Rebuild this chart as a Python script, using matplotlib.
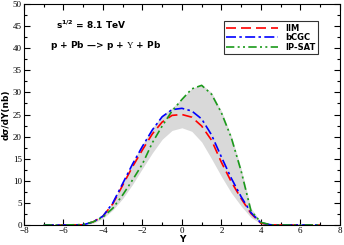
import matplotlib
matplotlib.use("Agg")
import matplotlib.pyplot as plt
from matplotlib.ticker import MultipleLocator

# rapidity grid and curves
Y = [-7, -6, -5, -4.5, -4, -3.5, -3, -2.5, -2, -1.5, -1, -0.5, 0,
     0.5, 1, 1.5, 2, 2.5, 3, 3.5, 4, 4.5, 5, 6, 7]
iim = [0, 0, 0.05, 0.7, 2.0, 4.8, 9.0, 13.2, 17.0, 20.6, 23.3, 24.8, 25.0,
       24.4, 22.4, 19.2, 14.2, 9.8, 6.0, 2.6, 0.4, 0.05, 0, 0, 0]
bcgc = [0, 0, 0.05, 0.7, 2.0, 5.0, 9.4, 13.8, 17.8, 21.5, 24.5, 26.1, 26.4,
        25.8, 24.0, 20.4, 15.4, 10.6, 6.4, 2.8, 0.5, 0.05, 0, 0, 0]
ipsat = [0, 0, 0.1, 0.7, 1.8, 3.8, 6.8, 10.2, 13.8, 18.6, 22.4, 25.8, 28.4,
         30.8, 31.6, 29.6, 25.4, 19.8, 12.2, 3.2, 0.6, 0.05, 0, 0, 0]
band_lo = [0, 0, 0, 0.4, 1.5, 3.4, 6.0, 9.2, 12.8, 16.3, 19.4, 21.4, 22.0,
           21.2, 18.8, 15.0, 11.0, 7.3, 4.3, 1.7, 0.3, 0.03, 0, 0, 0]
band_hi = [0, 0, 0.1, 0.8, 2.1, 5.2, 9.7, 14.2, 18.2, 21.9, 24.9, 26.5, 28.6,
           30.9, 31.8, 30.0, 25.8, 20.2, 12.8, 3.8, 0.8, 0.1, 0, 0, 0]

plt.rcParams["mathtext.fontset"] = "custom"
plt.rcParams["mathtext.rm"] = "Liberation Serif"

fig = plt.figure(figsize=(3.44, 2.45), dpi=100)
ax = fig.add_axes([0.0698, 0.0816, 0.918, 0.902])

ax.fill_between(Y, band_lo, band_hi, color="#d9d9d9", lw=0)
ax.plot(Y, iim, color="red", ls=(0, (6, 3)), lw=1.2, label="IIM")
ax.plot(Y, bcgc, color="blue", ls=(0, (6, 2, 1.5, 2)), lw=1.2, label="bCGC")
ax.plot(Y, ipsat, color="#1a9a1a", ls=(0, (5, 2, 1.2, 2, 1.2, 2)), lw=1.2, label="IP-SAT")

ax.set_xlim(-8, 8)
ax.set_ylim(0, 50)
ax.xaxis.set_major_locator(MultipleLocator(2))
ax.xaxis.set_minor_locator(MultipleLocator(1))
ax.yaxis.set_major_locator(MultipleLocator(5))
ax.yaxis.set_minor_locator(MultipleLocator(2.5))
ax.tick_params(which="both", direction="in", top=True, right=True,
               labelsize=6.5, pad=1.5)
ax.tick_params(which="major", length=4, width=0.8)
ax.tick_params(which="minor", length=2, width=0.8)
for lab in ax.get_xticklabels() + ax.get_yticklabels():
    lab.set_family("Liberation Serif")

ax.set_xlabel("Y", fontsize=6.5, fontweight="bold", labelpad=0)
ax.set_ylabel("d\u03c3/dY(nb)", fontsize=6.5, fontweight="bold", labelpad=2)

ax.text(-6.4, 45.2, r"$\mathbf{s^{1/2}}$ = 8.1 TeV", fontsize=6.5,
        fontweight="bold", va="center")
ax.text(-6.7, 40.6, r"p + Pb —> p + $\mathrm{\Upsilon}$ + Pb", fontsize=6.5,
        fontweight="bold", va="center")

leg = ax.legend(loc="upper right", bbox_to_anchor=(0.932, 0.921),
                prop={"weight": "bold", "size": 6}, handlelength=6.2,
                fancybox=False, edgecolor="black", borderpad=0.3,
                labelspacing=0.05, handletextpad=0.9, borderaxespad=0)
leg.get_frame().set_linewidth(0.8)

fig.savefig("out.png", dpi=100)
